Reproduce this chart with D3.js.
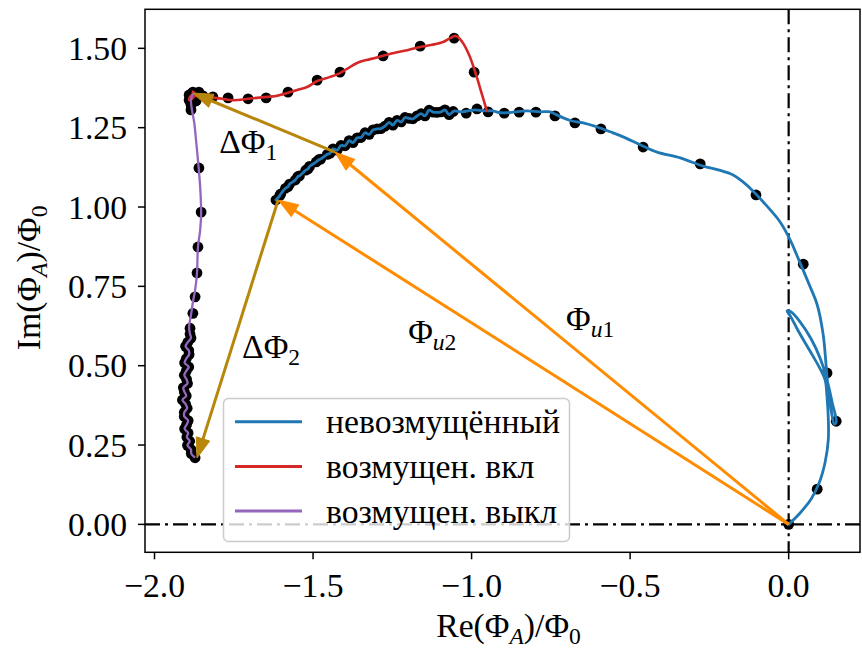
<!DOCTYPE html>
<html>
<head>
<meta charset="utf-8">
<script src="https://cdn.jsdelivr.net/npm/d3@7"></script>
<style>
  body { margin: 0; background: #fff; }
  svg { display: block; }
  text { font-family: "Liberation Serif", "Times New Roman", serif; fill: #000; }
</style>
</head>
<body>
<svg id="chart" width="862" height="648"></svg>
<script>
const canWidth = 862;
const canHeight = 648;
const plotLeft = 145, plotRight = 860, plotTop = 9.3, plotBottom = 552.3;
const fontSize = 33.7;

// ticks
const xTicks = [-2.0, -1.5, -1.0, -0.5, 0.0];
const yTicks = [0.00, 0.25, 0.50, 0.75, 1.00, 1.25, 1.50];

// unperturbed curve, smooth part from origin (includes the small loop) up to the dense arc
const blueLineSparse = [
  [0.000, 0.000], [0.036, 0.036], [0.071, 0.080], [0.096, 0.130], [0.115, 0.196],
  [0.125, 0.266], [0.125, 0.335], [0.121, 0.401], [0.115, 0.455], [0.096, 0.496],
  [0.065, 0.550], [0.030, 0.610], [0.005, 0.657], [-0.005, 0.672], [0.008, 0.669],
  [0.036, 0.638], [0.071, 0.584], [0.099, 0.524], [0.121, 0.455], [0.137, 0.385],
  [0.150, 0.322], [0.144, 0.316], [0.134, 0.360], [0.125, 0.423], [0.118, 0.502],
  [0.109, 0.597], [0.090, 0.692], [0.065, 0.755], [0.036, 0.824], [0.005, 0.896],
  [-0.027, 0.953], [-0.074, 1.009], [-0.115, 1.053], [-0.144, 1.079], [-0.175, 1.101],
  [-0.222, 1.117], [-0.270, 1.129], [-0.342, 1.155], [-0.415, 1.173], [-0.468, 1.196],
  [-0.522, 1.221], [-0.563, 1.237], [-0.604, 1.252], [-0.648, 1.265], [-0.683, 1.271],
  [-0.711, 1.281], [-0.737, 1.293], [-0.752, 1.300], [-0.784, 1.300], [-0.825, 1.303],
  [-0.863, 1.300], [-0.888, 1.297], [-0.910, 1.297], [-0.935, 1.303], [-0.964, 1.303],
  [-0.989, 1.306], [-1.011, 1.303], [-1.033, 1.300], [-1.052, 1.303]
];
// dense noisy arc, measured points (line goes through them)
const blueArc = [
  [-1.058, 1.301], [-1.071, 1.291], [-1.084, 1.306], [-1.096, 1.300], [-1.109, 1.298],
  [-1.121, 1.299], [-1.134, 1.305], [-1.147, 1.287], [-1.159, 1.294], [-1.172, 1.287],
  [-1.185, 1.278], [-1.197, 1.279], [-1.210, 1.282], [-1.222, 1.268], [-1.235, 1.273],
  [-1.248, 1.258], [-1.260, 1.267], [-1.273, 1.255], [-1.286, 1.247], [-1.298, 1.246],
  [-1.311, 1.243], [-1.323, 1.229], [-1.336, 1.234], [-1.349, 1.219], [-1.361, 1.218],
  [-1.374, 1.203], [-1.386, 1.209], [-1.399, 1.193], [-1.412, 1.194], [-1.424, 1.179],
  [-1.437, 1.183], [-1.446, 1.170], [-1.455, 1.166], [-1.476, 1.151], [-1.482, 1.149],
  [-1.490, 1.142], [-1.511, 1.128], [-1.516, 1.120], [-1.523, 1.116], [-1.543, 1.098],
  [-1.548, 1.096], [-1.556, 1.085], [-1.574, 1.072], [-1.579, 1.064], [-1.587, 1.059],
  [-1.602, 1.041], [-1.605, 1.036], [-1.617, 1.022]
];
const blueDotsSparse = [
  [-1.017, 1.296], [-0.983, 1.309], [-0.948, 1.300], [-0.897, 1.296], [-0.850, 1.299],
  [-0.797, 1.299], [-0.737, 1.287], [-0.674, 1.265], [-0.592, 1.246], [-0.459, 1.189],
  [-0.279, 1.136], [-0.103, 1.038], [0.046, 0.820], [0.121, 0.477], [0.150, 0.325],
  [0.090, 0.111], [0.000, 0.000]
];

// perturbation switched on
const redLine = [
  [-0.951, 1.300], [-0.967, 1.354], [-0.986, 1.417], [-1.008, 1.480], [-1.030, 1.521],
  [-1.049, 1.539], [-1.068, 1.532], [-1.090, 1.520], [-1.125, 1.511], [-1.162, 1.504],
  [-1.200, 1.495], [-1.235, 1.488], [-1.282, 1.476], [-1.320, 1.466], [-1.361, 1.454],
  [-1.393, 1.435], [-1.415, 1.422], [-1.446, 1.410], [-1.487, 1.397], [-1.519, 1.378],
  [-1.550, 1.369], [-1.582, 1.359], [-1.617, 1.350], [-1.645, 1.347], [-1.677, 1.344],
  [-1.705, 1.341], [-1.737, 1.337], [-1.762, 1.337], [-1.787, 1.341], [-1.809, 1.344],
  [-1.834, 1.347], [-1.850, 1.350], [-1.866, 1.350], [-1.879, 1.353], [-1.888, 1.347],
  [-1.891, 1.337], [-1.882, 1.341], [-1.872, 1.356], [-1.882, 1.365]
];
const redDots = [
  [-0.992, 1.425], [-1.055, 1.532], [-1.162, 1.507], [-1.279, 1.476], [-1.415, 1.425],
  [-1.487, 1.400], [-1.579, 1.362], [-1.648, 1.344], [-1.705, 1.341], [-1.768, 1.344],
  [-1.816, 1.347], [-1.847, 1.350], [-1.863, 1.353], [-1.879, 1.362], [-1.891, 1.353],
  [-1.891, 1.337], [-1.885, 1.322], [-1.869, 1.334], [-1.860, 1.362]
];

// perturbation switched off: smooth upper part, then dense noisy tail
const purpleUpper = [
  [-1.879, 1.359], [-1.885, 1.337], [-1.882, 1.306], [-1.875, 1.268], [-1.869, 1.211],
  [-1.863, 1.148], [-1.856, 1.063], [-1.853, 0.981], [-1.856, 0.927], [-1.863, 0.874],
  [-1.866, 0.792], [-1.872, 0.738], [-1.879, 0.700], [-1.885, 0.659], [-1.891, 0.622]
];
const purpleTail = [
  [-1.888, 0.600], [-1.885, 0.587], [-1.895, 0.574], [-1.902, 0.561], [-1.892, 0.548],
  [-1.891, 0.535], [-1.900, 0.522], [-1.905, 0.509], [-1.892, 0.496], [-1.900, 0.483],
  [-1.906, 0.470], [-1.899, 0.457], [-1.896, 0.444], [-1.909, 0.431], [-1.906, 0.418],
  [-1.900, 0.405], [-1.912, 0.392], [-1.902, 0.379], [-1.897, 0.366], [-1.906, 0.353],
  [-1.906, 0.340], [-1.894, 0.327], [-1.899, 0.314], [-1.905, 0.301], [-1.894, 0.288],
  [-1.898, 0.275], [-1.889, 0.262], [-1.896, 0.249], [-1.885, 0.236], [-1.884, 0.223],
  [-1.872, 0.210]
];
const purpleDotsSparse = [
  [-1.885, 1.306], [-1.860, 1.123], [-1.853, 0.984], [-1.863, 0.874], [-1.866, 0.792],
  [-1.872, 0.717], [-1.879, 0.665], [-1.888, 0.618]
];

// arrows: [x0, y0, x1, y1, colour]
const arrows = [
  [0, 0, -1.431, 1.173, "#ff8c00"],
  [0, 0, -1.610, 1.022, "#ff8c00"],
  [-1.431, 1.173, -1.879, 1.359, "#b8860b"],
  [-1.610, 1.022, -1.866, 0.209, "#b8860b"]
];
// text labels: [x, y, main, italic subscript part, upright subscript part]
const labels = [
  [-1.796, 1.170, "ΔΦ", "", "1"],
  [-1.724, 0.525, "ΔΦ", "", "2"],
  [-0.702, 0.612, "Φ", "u", "1"],
  [-1.200, 0.571, "Φ", "u", "2"]
];

const legendNames = ["невозмущённый", "возмущен. вкл", "возмущен. выкл"];
const legendColors = ["#1f77b4", "#d62728", "#9467bd"];

const xs = d3.scaleLinear().domain([-2.030, 0.225]).range([plotLeft, plotRight]);
const ys = d3.scaleLinear().domain([-0.088, 1.623]).range([plotBottom, plotTop]);

const svg = d3.select("#chart");

// zero lines
svg.append("line")
  .attr("x1", plotLeft).attr("x2", plotRight).attr("y1", ys(0)).attr("y2", ys(0))
  .attr("stroke", "#000").attr("stroke-width", 2.2).attr("stroke-dasharray", "15,5,3,5");
svg.append("line")
  .attr("x1", xs(0)).attr("x2", xs(0)).attr("y1", plotTop).attr("y2", plotBottom)
  .attr("stroke", "#000").attr("stroke-width", 2.2).attr("stroke-dasharray", "15,5,3,5");

// dots
const allDots = blueDotsSparse.concat(blueArc, redDots, purpleDotsSparse, purpleTail);
svg.append("g").selectAll("circle")
  .data(allDots)
  .enter()
  .append("circle")
  .attr("cx", d => xs(d[0]))
  .attr("cy", d => ys(d[1]))
  .attr("r", 5.4)
  .attr("fill", "#000");

const line = d3.line()
  .x(d => xs(d[0]))
  .y(d => ys(d[1]))
  .curve(d3.curveCatmullRom.alpha(0.5));

svg.append("path").datum(blueLineSparse.concat(blueArc))
  .attr("d", line).attr("fill", "none").attr("stroke", legendColors[0])
  .attr("stroke-width", 2.8).attr("stroke-linejoin", "round").attr("stroke-linecap", "round");
svg.append("path").datum(redLine)
  .attr("d", line).attr("fill", "none").attr("stroke", legendColors[1])
  .attr("stroke-width", 2.6).attr("stroke-linejoin", "round");
svg.append("path").datum(purpleUpper.concat(purpleTail))
  .attr("d", line).attr("fill", "none").attr("stroke", legendColors[2])
  .attr("stroke-width", 2.3).attr("stroke-linejoin", "round");

// arrows
const headLen = 20, headHalf = 7;
arrows.forEach(a => {
  const x0 = xs(a[0]), y0 = ys(a[1]), x1 = xs(a[2]), y1 = ys(a[3]);
  const len = Math.hypot(x1 - x0, y1 - y0);
  const ux = (x1 - x0) / len, uy = (y1 - y0) / len;
  const bx = x1 - ux * headLen, by = y1 - uy * headLen;
  svg.append("line")
    .attr("x1", x0).attr("y1", y0).attr("x2", bx + ux * 2).attr("y2", by + uy * 2)
    .attr("stroke", a[4]).attr("stroke-width", 3);
  svg.append("path")
    .attr("d", `M${x1},${y1}L${bx - uy * headHalf},${by + ux * headHalf}L${bx + uy * headHalf},${by - ux * headHalf}Z`)
    .attr("fill", a[4]).attr("stroke", a[4]).attr("stroke-width", 1).attr("stroke-linejoin", "miter");
});

// labels
labels.forEach(l => {
  const t = svg.append("text")
    .attr("x", xs(l[0])).attr("y", ys(l[1]))
    .attr("font-size", fontSize);
  t.append("tspan").text(l[2]);
  if (l[3]) {
    t.append("tspan").text(l[3])
      .attr("font-size", fontSize * 0.7).attr("dy", 7).attr("font-style", "italic");
    t.append("tspan").text(l[4]).attr("font-size", fontSize * 0.7);
  } else {
    t.append("tspan").text(l[4])
      .attr("font-size", fontSize * 0.7).attr("dy", 7);
  }
});

// spines
svg.append("rect")
  .attr("x", plotLeft).attr("y", plotTop)
  .attr("width", plotRight - plotLeft).attr("height", plotBottom - plotTop)
  .attr("fill", "none").attr("stroke", "#000").attr("stroke-width", 1.5);

// x axis ticks
const xg = svg.append("g");
xg.selectAll("line").data(xTicks).enter().append("line")
  .attr("x1", d => xs(d)).attr("x2", d => xs(d))
  .attr("y1", plotBottom).attr("y2", plotBottom + 7)
  .attr("stroke", "#000").attr("stroke-width", 1.5);
xg.selectAll("text").data(xTicks).enter().append("text")
  .attr("x", d => xs(d)).attr("y", plotBottom + 45)
  .attr("text-anchor", "middle").attr("font-size", fontSize)
  .text(d => d3.format(".1f")(d).replace("-", "−"));

// y axis ticks
const yg = svg.append("g");
yg.selectAll("line").data(yTicks).enter().append("line")
  .attr("x1", plotLeft - 7).attr("x2", plotLeft)
  .attr("y1", d => ys(d)).attr("y2", d => ys(d))
  .attr("stroke", "#000").attr("stroke-width", 1.5);
yg.selectAll("text").data(yTicks).enter().append("text")
  .attr("x", plotLeft - 18).attr("y", d => ys(d) + 11.5)
  .attr("text-anchor", "end").attr("font-size", fontSize)
  .text(d => d3.format(".2f")(d));

// axis labels
function mathLabel(t, parts) {
  let shifted = false;
  parts.forEach(p => {
    const s = t.append("tspan").text(p[0]);
    if (p[1]) {
      s.attr("font-size", fontSize * 0.7).attr("dy", 7);
      if (p[1] === "i") s.attr("font-style", "italic");
      shifted = true;
    } else if (shifted) {
      s.attr("dy", -7);
      shifted = false;
    }
  });
}
const xl = svg.append("text")
  .attr("x", (plotLeft + plotRight) / 2 + 6).attr("y", 637)
  .attr("text-anchor", "middle").attr("font-size", fontSize);
mathLabel(xl, [["Re(Φ"], ["A", "i"], [")/Φ"], ["0", "s"]]);

const yl = svg.append("text")
  .attr("transform", `translate(40,${(plotTop + plotBottom) / 2 - 3}) rotate(-90)`)
  .attr("text-anchor", "middle").attr("font-size", fontSize);
mathLabel(yl, [["Im(Φ"], ["A", "i"], [")/Φ"], ["0", "s"]]);

// legend
const lg = svg.append("g");
lg.append("rect")
  .attr("x", 223.5).attr("y", 398.5).attr("width", 346).attr("height", 143)
  .attr("rx", 5).attr("fill", "#fff").attr("fill-opacity", 0.8)
  .attr("stroke", "#cccccc").attr("stroke-width", 1.5);
legendNames.forEach((name, i) => {
  const yy = 421.7 + i * 44.7;
  lg.append("line")
    .attr("x1", 235).attr("x2", 302).attr("y1", yy).attr("y2", yy)
    .attr("stroke", legendColors[i]).attr("stroke-width", 3);
  lg.append("text")
    .attr("x", 326).attr("y", yy + 11.5)
    .attr("font-size", fontSize)
    .text(name);
});
</script>
</body>
</html>
